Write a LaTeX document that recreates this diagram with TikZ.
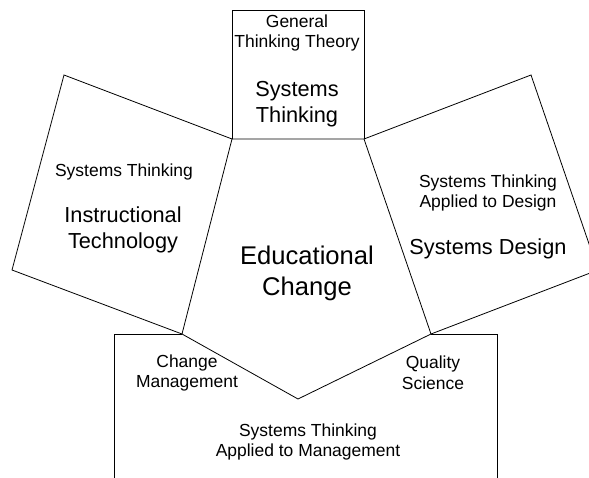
\documentclass[tikz,border=0pt]{standalone}
\usepackage{fontspec}
\setmainfont{Liberation Sans}
\begin{document}
\begin{tikzpicture}[x=0.75pt,y=-0.75pt,
  edge/.style={draw=black,line width=0.6pt},
  small/.style={font=\fontsize{13.1pt}{15.6pt}\selectfont,align=center,inner sep=0pt},
  large/.style={font=\fontsize{16.3pt}{19.5pt}\selectfont,align=center,inner sep=0pt},
  huge/.style={font=\fontsize{19.2pt}{23.4pt}\selectfont,align=center,inner sep=0pt}]
\useasboundingbox (0,0) rectangle (589,478);
\clip (0,0) rectangle (589,478);
% pentagon vertices
\coordinate (ptl) at (232,139);
\coordinate (ptr) at (364,139);
\coordinate (pbr) at (431,334);
\coordinate (pb)  at (298,399);
\coordinate (pbl) at (182,334);
% top square
\coordinate (ttl) at (232,10);
\coordinate (ttr) at (364,10);
% left square
\coordinate (ltl) at (64,75);
\coordinate (lbl) at (12,270);
% right square
\coordinate (rtr) at (531,75);
\coordinate (rbr) at (598,270);
% bottom shape
\coordinate (btl) at (114,334);
\coordinate (btr) at (497,334);
\coordinate (bbl) at (114,490);
\coordinate (bbr) at (497,490);

\draw[edge] (ptl) -- (ptr) -- (pbr) -- (pb) -- (pbl) -- cycle;
\draw[edge] (ptl) -- (ttl) -- (ttr) -- (ptr);
\draw[edge] (ptl) -- (ltl) -- (lbl) -- (pbl);
\draw[edge] (ptr) -- (rtr) -- (rbr) -- (pbr);
\draw[edge] (bbl) -- (btl) -- (pbl);
\draw[edge] (pbr) -- (btr) -- (bbr);

\node[small] (gen) at (297,33) {General\\Thinking Theory};
\node[large] (st) at (297,104) {Systems\\Thinking};
\node[small] (itst) at (124,172) {Systems Thinking};
\node[large] (it) at (123,230) {Instructional\\Technology};
\node[huge] (ec) at (307,273) {Educational\\Change};
\node[small] (sdst) at (488,193) {Systems Thinking\\Applied to Design};
\node[large] (sd) at (488,249) {Systems Design};
\node[small] (cm) at (187,373) {Change\\Management};
\node[small] (qs) at (433,373) {Quality\\Science};
\node[small] (stm) at (308,442) {Systems Thinking\\Applied to Management};
\end{tikzpicture}
\end{document}
